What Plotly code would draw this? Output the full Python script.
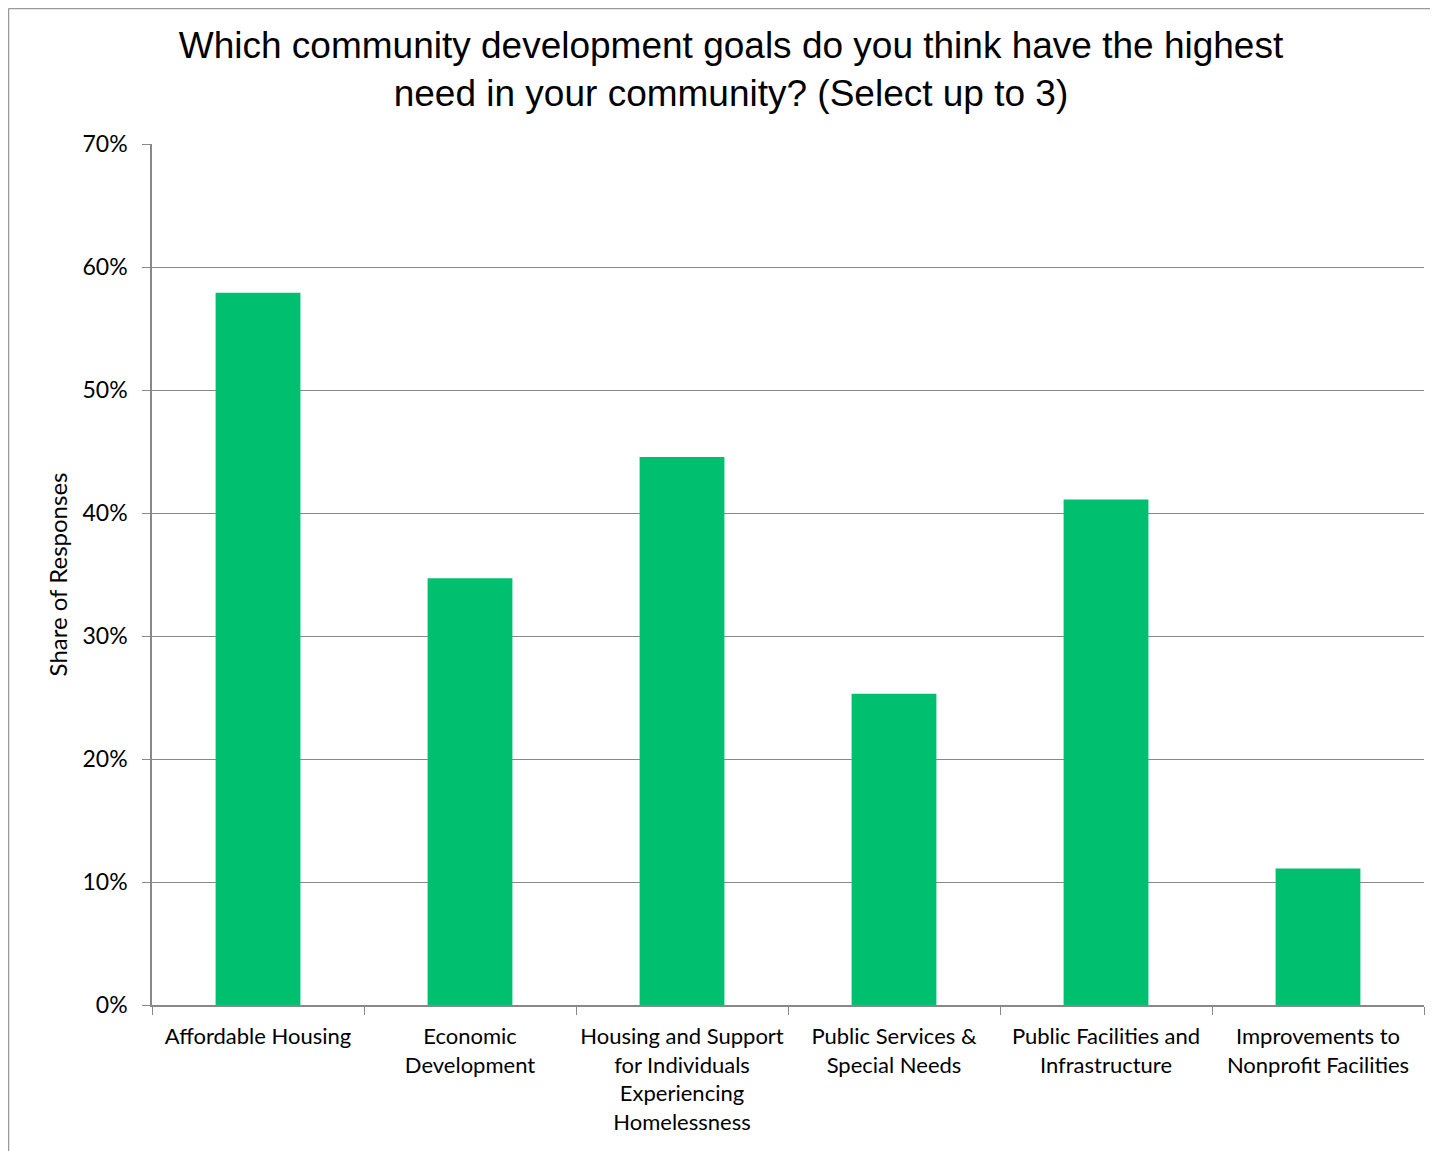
import plotly.graph_objects as go

categories = [
    "Affordable Housing",
    "Economic<br>Development",
    "Housing and Support<br>for Individuals<br>Experiencing<br>Homelessness",
    "Public Services &<br>Special Needs",
    "Public Facilities and<br>Infrastructure",
    "Improvements to<br>Nonprofit Facilities",
]
shares = [0.579, 0.347, 0.4455, 0.253, 0.411, 0.111]
y_ticks = [0, 0.1, 0.2, 0.3, 0.4, 0.5, 0.6, 0.7]
y_tick_labels = ["0%", "10%", "20%", "30%", "40%", "50%", "60%", "70%"]

fig = go.Figure(go.Bar(x=categories, y=shares, marker_color="#00BF6F",
                       marker_line_width=0))

# page has an 8px body margin; figure sits at (8, 8)
W, H = 1430, 1143
ml, mt = 144, 136
mr = W - (1424 - 8)
mb = H - (1005 - 8)
pw, ph = W - ml - mr, H - mt - mb

fig.update_layout(
    width=W, height=H,
    margin=dict(l=ml, r=mr, t=mt, b=mb, autoexpand=False),
    paper_bgcolor="white", plot_bgcolor="white",
    bargap=0.6,
    showlegend=False,
    title=dict(
        text="Which community development goals do you think have the highest<br>need in your community? (Select up to 3)",
        font=dict(family="Liberation Sans, Arial", size=37, color="black"),
        x=(731 - 8 - ml) / pw, xref="paper", xanchor="center",
        y=1 - (57.5 - 8) / H, yref="container", yanchor="middle",
    ),
    font=dict(family="Lato, Carlito, Open Sans", color="black"),
    xaxis=dict(
        showline=True, linecolor="#888888", linewidth=1.5,
        ticks="outside", tickson="boundaries", ticklen=8, tickcolor="#888888",
        tickfont=dict(size=22, family="Lato"),
        tickangle=0, automargin=False,
        ticklabelstandoff=11,
        showgrid=False,
    ),
    yaxis=dict(
        range=[0, 0.7],
        tickvals=y_ticks, ticktext=y_tick_labels,
        tickfont=dict(size=23, family="Lato"),
        ticklabelstandoff=10, automargin=False,
        showgrid=True, gridcolor="#888888", gridwidth=1.2,
        showline=True, linecolor="#888888", linewidth=1.5,
        ticks="outside", ticklen=8, tickcolor="#888888",
        zeroline=False,
        title=dict(text="Share of Responses", font=dict(size=24, family="Lato"), standoff=8),
    ),
    shapes=[dict(type="line", xref="paper", yref="paper",
                 x0=(0.5 - ml) / pw, x1=(W + 5 - ml) / pw,
                 y0=(H - 0.5 - mb) / ph, y1=(H - 0.5 - mb) / ph,
                 line=dict(color="#999999", width=1.5)),
            dict(type="line", xref="paper", yref="paper",
                 x0=(0.5 - ml) / pw, x1=(0.5 - ml) / pw,
                 y0=(H - 0.5 - mb) / ph, y1=(-mb - 5) / ph,
                 line=dict(color="#999999", width=1.5))],
)

fig.write_html("out.html")
